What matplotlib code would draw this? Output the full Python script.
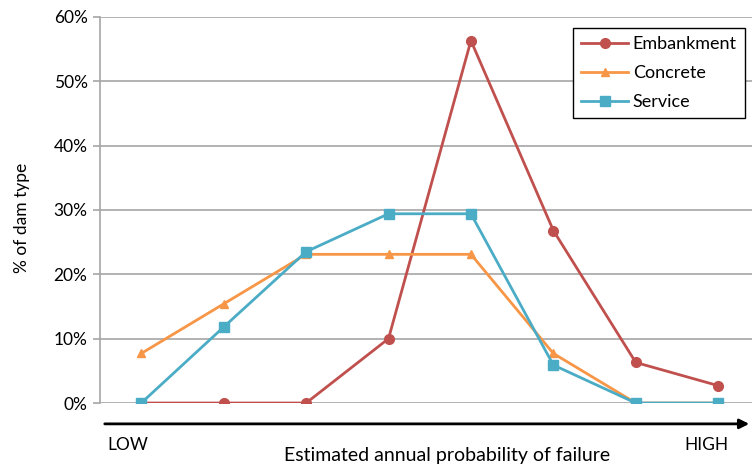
import matplotlib.pyplot as plt
from matplotlib.ticker import PercentFormatter

plt.rcParams['font.family'] = ['Lato', 'DejaVu Sans']

# Data
categories = [1, 2, 3, 4, 5, 6, 7, 8]
embankment = [0, 0, 0, 10.0, 56.3, 26.8, 6.3, 2.7]
concrete = [7.7, 15.4, 23.1, 23.1, 23.1, 7.7, 0, 0]
service = [0, 11.8, 23.5, 29.4, 29.4, 5.9, 0, 0]

grey = '#a6a6a6'

fig = plt.figure(figsize=(7.52, 4.67), dpi=100)
ax = fig.add_axes([0.133, 0.137, 0.867, 0.827])

ax.plot(categories, embankment, color='#c0504d', lw=2, marker='o', ms=7, label='Embankment')
ax.plot(categories, concrete, color='#f79646', lw=2, marker='^', ms=6, label='Concrete')
ax.plot(categories, service, color='#4bacc6', lw=2, marker='s', ms=6.5, label='Service')

ax.set_xlim(0.5, 8.41)
ax.set_ylim(0, 60)
ax.set_yticks(range(0, 61, 10))
ax.yaxis.set_major_formatter(PercentFormatter(decimals=0))
ax.set_xticks([])
ax.grid(axis='y', color=grey, lw=1.2)
ax.set_axisbelow(True)
for side in ['top', 'right', 'bottom']:
    ax.spines[side].set_visible(False)
ax.spines['left'].set_color(grey)
ax.spines['left'].set_linewidth(1.2)
ax.tick_params(axis='y', color=grey, length=5, width=1.2, labelsize=12.5, pad=4)
ax.set_ylabel('% of dam type', fontsize=12.5)
ax.yaxis.set_label_coords(-0.107, 0.479)

leg = ax.legend(loc='upper right', bbox_to_anchor=(0.989, 0.9715), borderaxespad=0,
                fontsize=13, frameon=True, fancybox=False, edgecolor='black', framealpha=1,
                handlelength=2.6, borderpad=0.45, labelspacing=0.72, handletextpad=0.25)
leg.get_frame().set_linewidth(1.0)

# arrow under the plot
ax.annotate('', xy=(1.0, -0.054), xytext=(0.003, -0.054), xycoords='axes fraction',
            arrowprops=dict(arrowstyle='-|>', color='black', lw=2, mutation_scale=14),
            annotation_clip=False)
ax.text(0.012, -0.109, 'LOW', transform=ax.transAxes, fontsize=12.5, va='center')
ax.text(0.897, -0.109, 'HIGH', transform=ax.transAxes, fontsize=12.5, va='center')
ax.text(0.532, -0.135, 'Estimated annual probability of failure', transform=ax.transAxes,
        fontsize=14, ha='center', va='center')

fig.savefig('out.png', dpi=100)
